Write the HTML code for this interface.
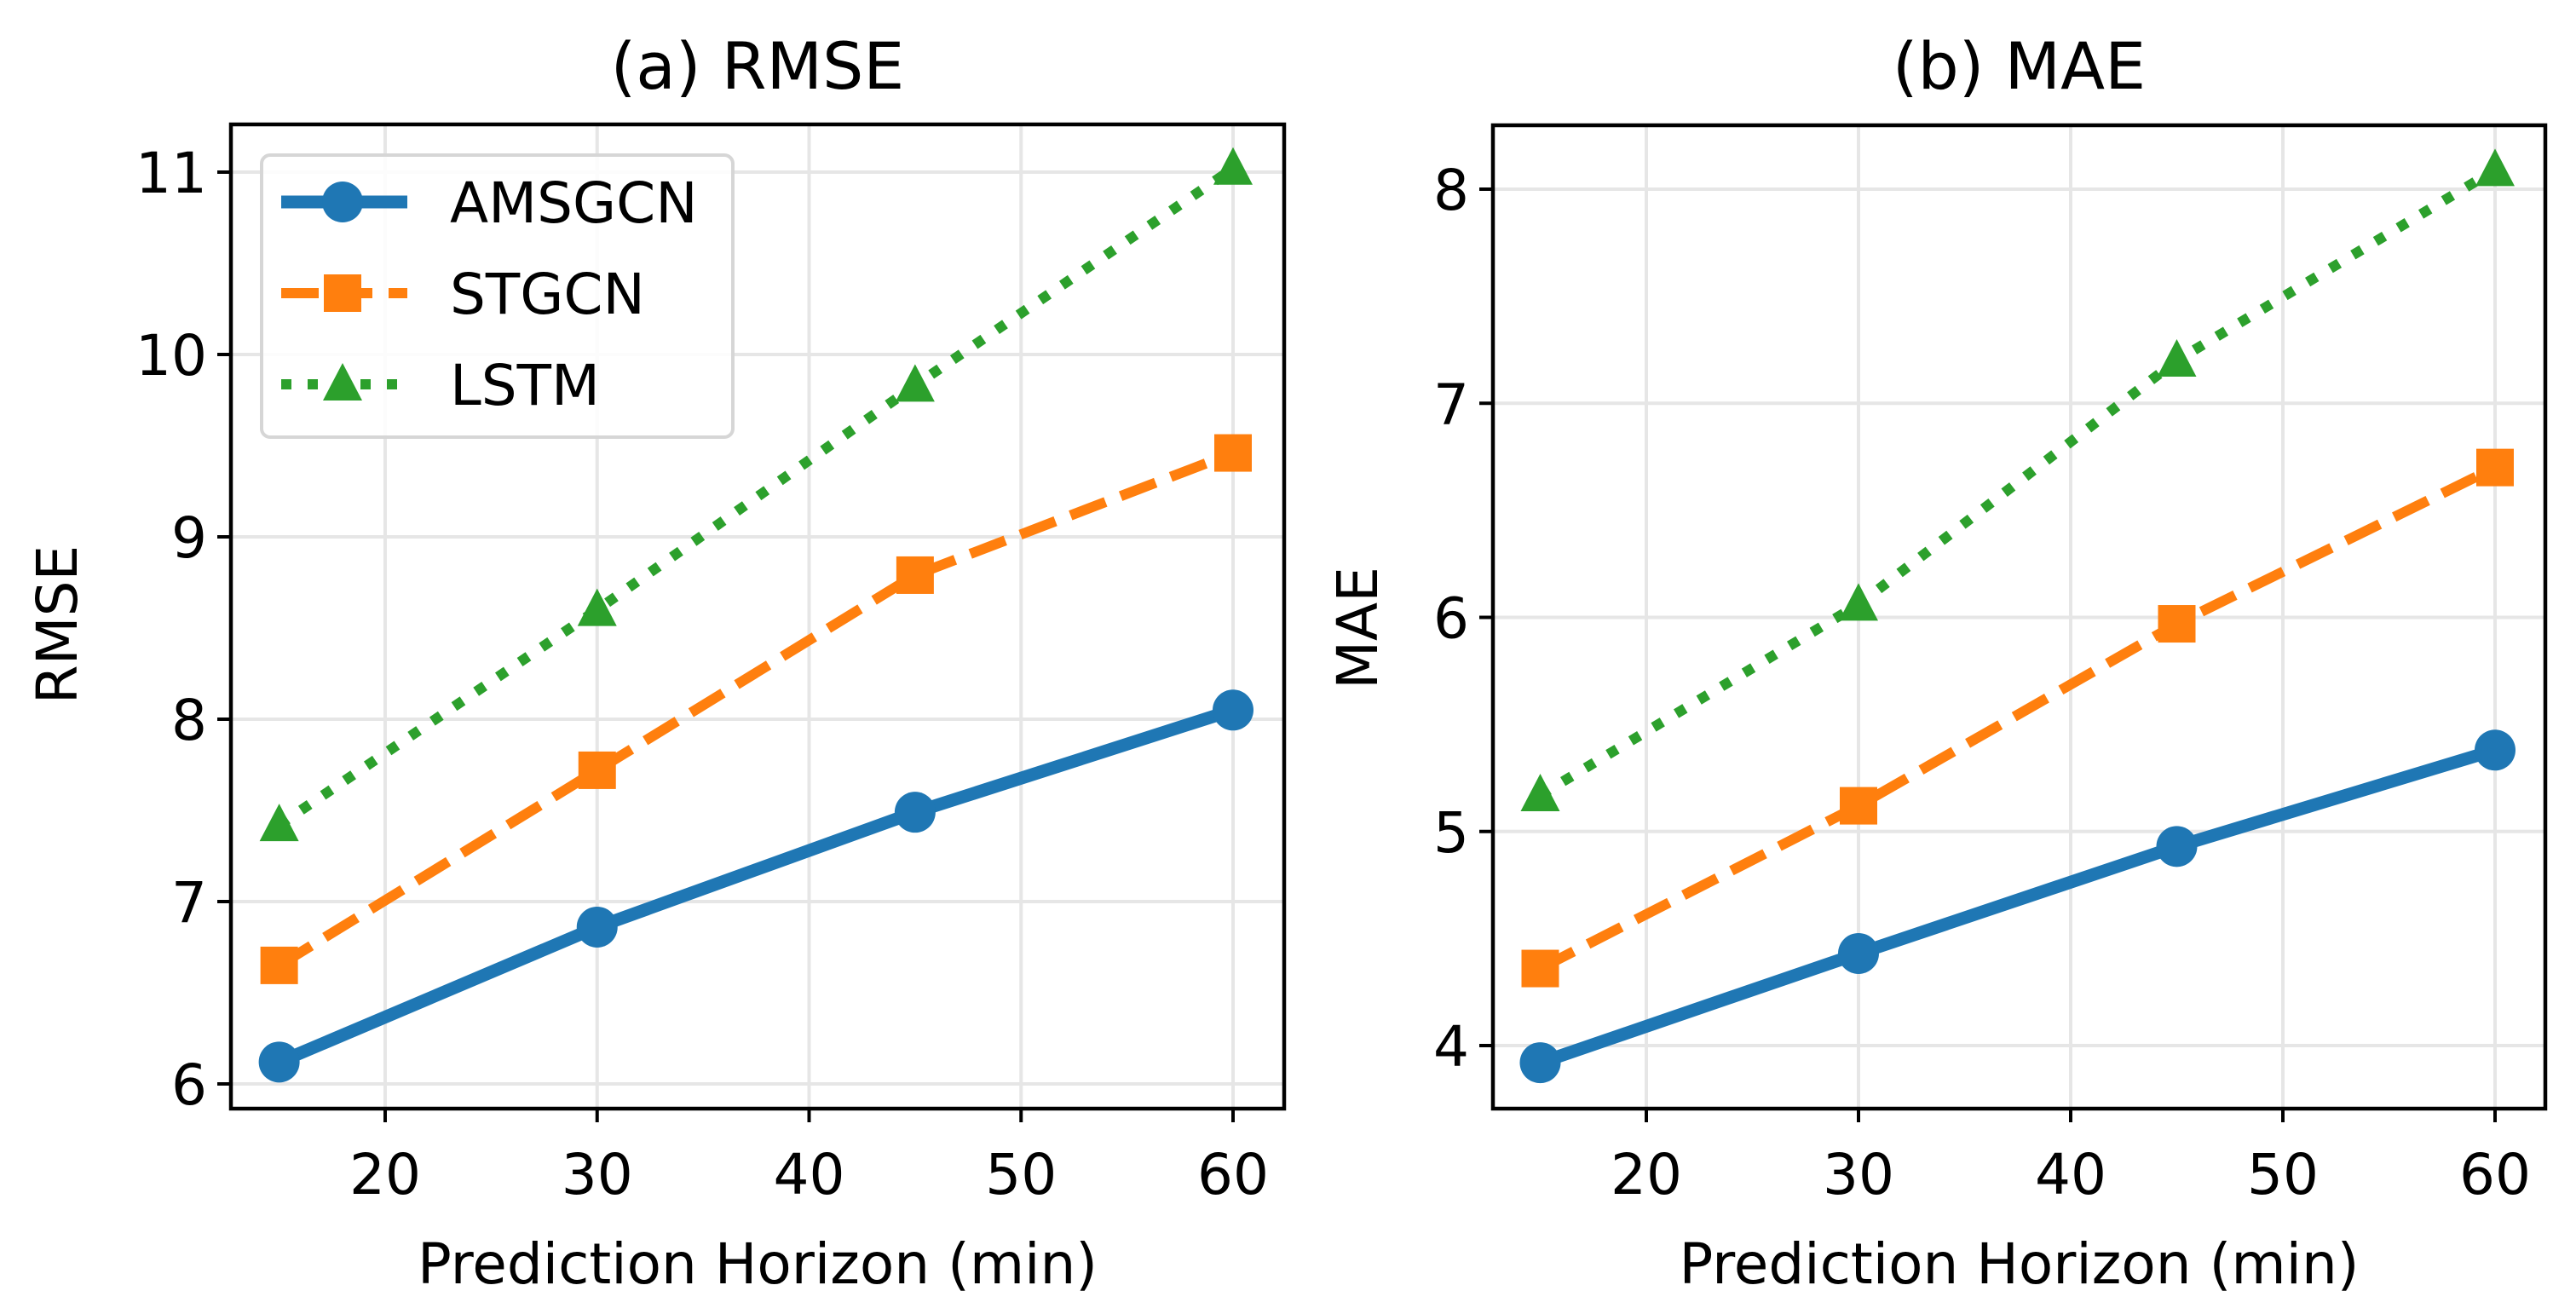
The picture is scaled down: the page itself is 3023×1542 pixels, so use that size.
<!DOCTYPE html>
<html><head><meta charset="utf-8"><style>
html,body{margin:0;padding:0;background:#fff;}
svg{display:block;font-family:"DejaVu Sans","Liberation Sans",sans-serif;}
</style></head><body>
<svg id="fig" width="3023" height="1542" viewBox="0 0 3023 1542" xmlns="http://www.w3.org/2000/svg"></svg>
<script>
const horizons = [15, 30, 45, 60];
const xTicks = [20, 30, 40, 50, 60];
const seriesNames = ["AMSGCN", "STGCN", "LSTM"];
const rmseAMSGCN = [6.12, 6.86, 7.49, 8.05];
const rmseSTGCN = [6.65, 7.72, 8.79, 9.46];
const rmseLSTM = [7.42, 8.60, 9.83, 11.02];
const maeAMSGCN = [3.92, 4.43, 4.93, 5.38];
const maeSTGCN = [4.36, 5.12, 5.97, 6.70];
const maeLSTM = [5.17, 6.06, 7.20, 8.09];
const rmseTicks = [6, 7, 8, 9, 10, 11];
const maeTicks = [4, 5, 6, 7, 8];

const NS = "http://www.w3.org/2000/svg";
const svg = document.getElementById("fig");
function mk(tag, attrs, parent) {
  const e = document.createElementNS(NS, tag);
  for (const k in attrs) e.setAttribute(k, attrs[k]);
  (parent || svg).appendChild(e);
  return e;
}
const colors = ["#1f77b4", "#ff7f0e", "#2ca02c"];
const dashes = ["none", "44 19", "12 19"];

function panel(cfg) {
  const g = mk("g", {});
  
  
  const xs = v => cfg.x20 + (v - 20) * (cfg.x60 - cfg.x20) / 40;
  const ys = v => cfg.yA + (v - cfg.vA) * (cfg.yB - cfg.yA) / (cfg.vB - cfg.vA);
  xTicks.forEach(t => {
    const l = mk("line", {x1: xs(t), x2: xs(t), y1: cfg.top, y2: cfg.bottom, stroke: "#e6e6e6", "stroke-width": 4}, g);
    
    
  });
  cfg.yTicks.forEach(t => {
    const l = mk("line", {x1: cfg.left, x2: cfg.right, y1: ys(t), y2: ys(t), stroke: "#e6e6e6", "stroke-width": 4}, g);
    
    
  });
  cfg.series.forEach((vals, i) => {
    const pts = vals.map((v, j) => xs(horizons[j]) + "," + ys(v)).join(" ");
    const pl = mk("polyline", {points: pts, fill: "none", stroke: colors[i], "stroke-width": i === 0 ? 15 : 12, "stroke-dasharray": dashes[i], "stroke-linecap": i === 0 ? "round" : "butt"}, g);
    
    
    vals.forEach((v, j) => {
      const cx = xs(horizons[j]), cy = ys(v);
      let m;
      if (i === 0) m = mk("circle", {cx: cx, cy: cy, r: 24, fill: colors[i]}, g);
      else if (i === 1) m = mk("rect", {x: cx - 22, y: cy - 22, width: 44, height: 44, fill: colors[i]}, g);
      else m = mk("polygon", {points: `${cx},${cy-25} ${cx+23},${cy+19} ${cx-23},${cy+19}`, fill: colors[i]}, g);
      
      
    });
  });
  const sp = mk("rect", {x: cfg.left, y: cfg.top, width: cfg.right - cfg.left, height: cfg.bottom - cfg.top, fill: "none", stroke: "#000", "stroke-width": 4.5}, g);
  
  
  xTicks.forEach(t => {
    const tk = mk("line", {x1: xs(t), x2: xs(t), y1: cfg.bottom, y2: cfg.bottom + 16, stroke: "#000", "stroke-width": 4}, g);
    
    
    const tx = mk("text", {x: xs(t), y: 1401, "font-size": 66, "text-anchor": "middle", fill: "#000"}, g);
    tx.textContent = t;
    
    
  });
  cfg.yTicks.forEach(t => {
    const tk = mk("line", {x1: cfg.left - 16, x2: cfg.left, y1: ys(t), y2: ys(t), stroke: "#000", "stroke-width": 4}, g);
    
    
    const tx = mk("text", {x: cfg.left - 28, y: ys(t) + 24, "font-size": 66, "text-anchor": "end", fill: "#000"}, g);
    tx.textContent = t;
    
    
  });
  const ttl = mk("text", {x: (cfg.left + cfg.right) / 2, y: 104, "font-size": 76, "text-anchor": "middle", fill: "#000"}, g);
  ttl.textContent = cfg.title;
  
  
  const xl = mk("text", {x: (cfg.left + cfg.right) / 2, y: 1506, "font-size": 66, "text-anchor": "middle", fill: "#000"}, g);
  xl.textContent = "Prediction Horizon (min)";
  
  
  const yl = mk("text", {x: 0, y: 0, "font-size": 66, "text-anchor": "middle", fill: "#000", transform: `translate(${cfg.ylx},${cfg.yly}) rotate(-90)`}, g);
  yl.textContent = cfg.ylabel;
  
  
}

panel({name: "rmse-panel", title: "(a) RMSE", ylabel: "RMSE", left: 271, right: 1507, top: 146, bottom: 1301,
  x20: 452, x60: 1447, vA: 11, yA: 202, vB: 6, yB: 1272, yTicks: rmseTicks,
  series: [rmseAMSGCN, rmseSTGCN, rmseLSTM], ylx: 90, yly: 733});
panel({name: "mae-panel", title: "(b) MAE", ylabel: "MAE", left: 1752, right: 2987, top: 147, bottom: 1301,
  x20: 1932, x60: 2928, vA: 8, yA: 222, vB: 4, yB: 1227, yTicks: maeTicks,
  series: [maeAMSGCN, maeSTGCN, maeLSTM], ylx: 1616, yly: 737});

const lg = mk("g", {});


const box = mk("rect", {x: 307, y: 182, width: 553, height: 331, rx: 10, fill: "#fff", "fill-opacity": 0.85, stroke: "#d6d6d6", "stroke-width": 4}, lg);


const rowsY = [237, 344, 451];
seriesNames.forEach((n, i) => {
  const y = rowsY[i];
  const ln = mk("line", {x1: 330, x2: 478, y1: y, y2: y, stroke: colors[i], "stroke-width": i === 0 ? 15 : 12, "stroke-dasharray": dashes[i]}, lg);
  
  
  const cx = 402;
  let m;
  if (i === 0) m = mk("circle", {cx: cx, cy: y, r: 24, fill: colors[i]}, lg);
  else if (i === 1) m = mk("rect", {x: cx - 22, y: y - 22, width: 44, height: 44, fill: colors[i]}, lg);
  else m = mk("polygon", {points: `${cx},${y-25} ${cx+23},${y+19} ${cx-23},${y+19}`, fill: colors[i]}, lg);
  
  
  const t = mk("text", {x: 528, y: y + 24, "font-size": 66, fill: "#000"}, lg);
  t.textContent = n;
  
  
});
</script>
</body></html>
